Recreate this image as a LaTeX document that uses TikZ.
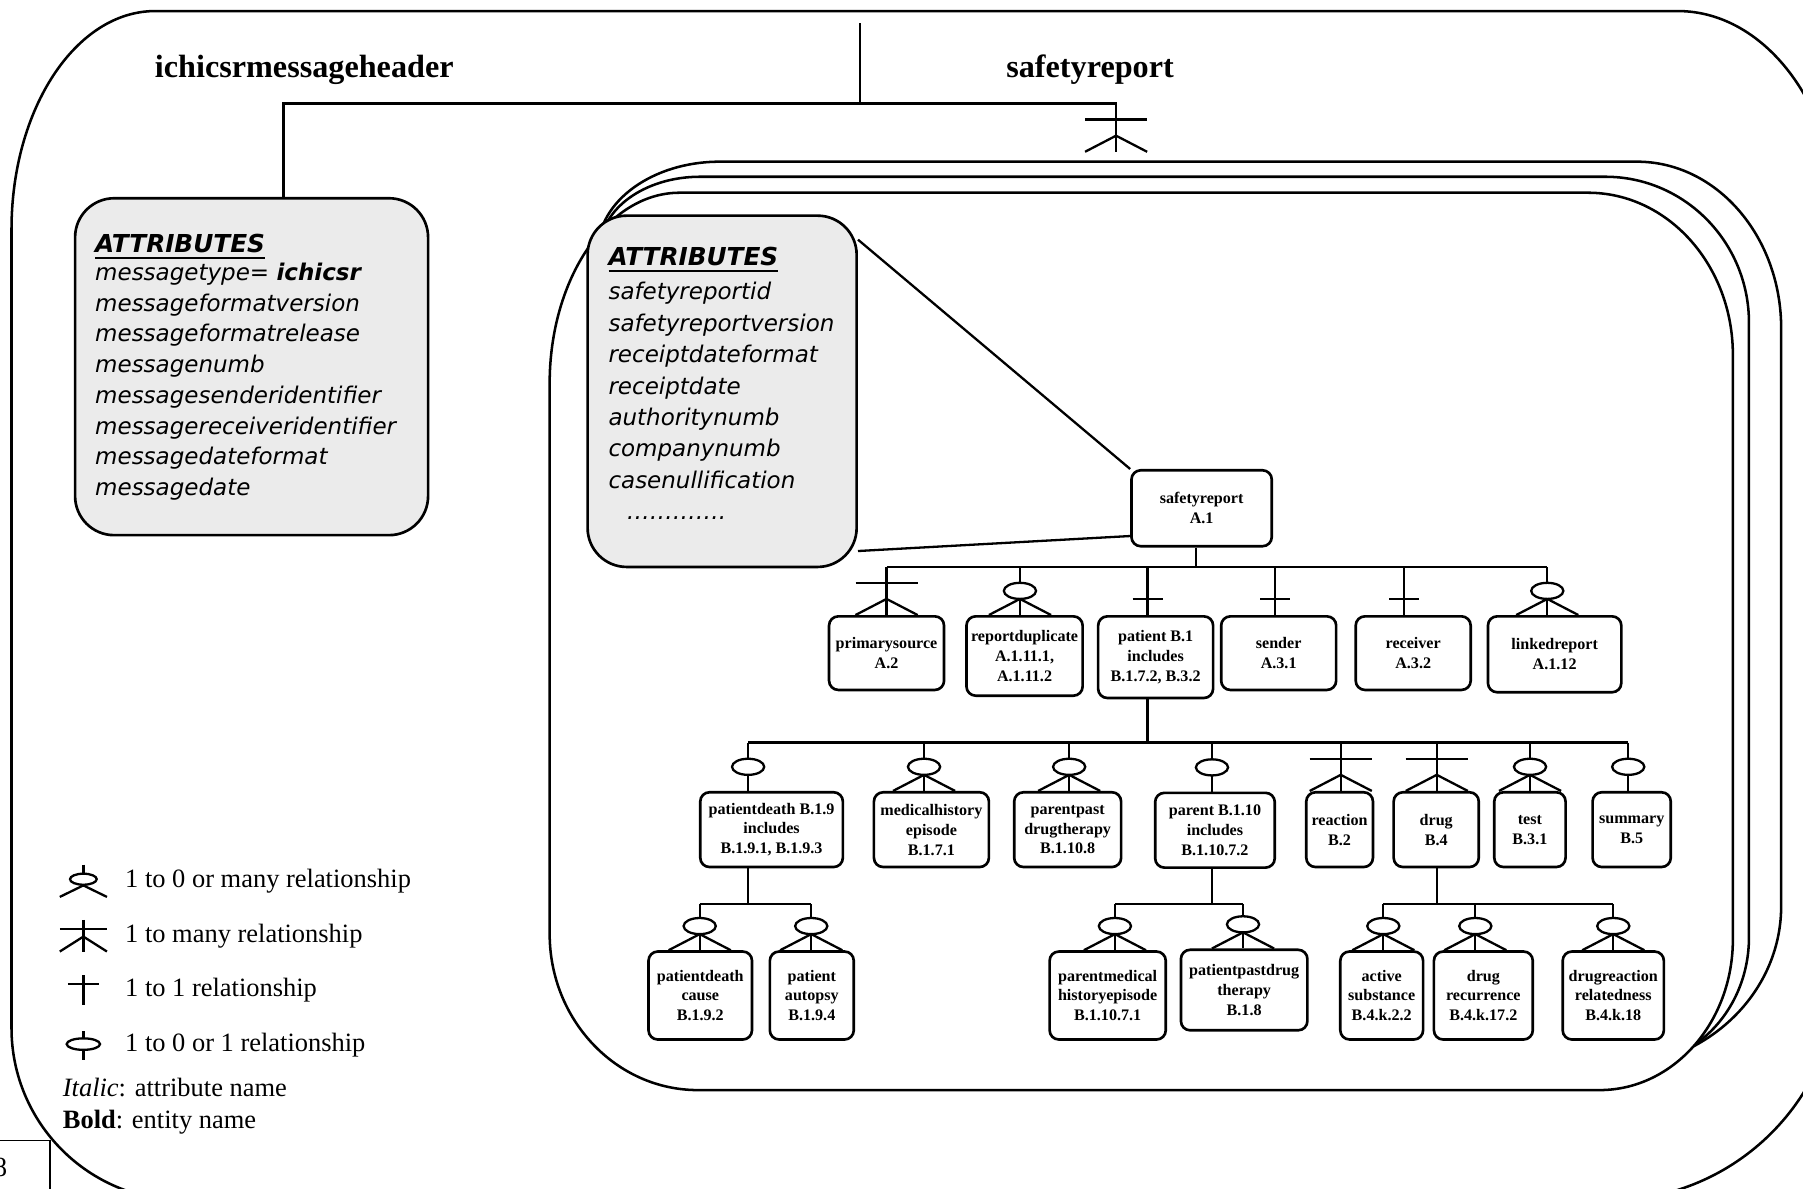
\documentclass[tikz,border=0pt]{standalone}
\usepackage{fontspec}
\setmainfont{Liberation Serif}
\newfontfamily\attrfont{DejaVu Sans}
\definecolor{attrgray}{RGB}{235,235,235}
\newcommand\entfont{\fontsize{14}{17.3}\selectfont\bfseries}
\newcommand\attrtxt{\attrfont\fontsize{20}{26.7}\selectfont\itshape}
\newcommand\attrtxtb{\attrfont\fontsize{20}{27.3}\selectfont\itshape}
\newcommand\ulhead[1]{{\fontsize{21.5}{26}\selectfont\bfseries\setbox0\hbox{#1}\rlap{\raisebox{-6pt}{\rule{\wd0}{2.2pt}}}\box0}}
\newcommand\kid[3]{\draw[conn] (#1) -- (#1 |- #2.north); \pic at (#1 |- #2.north) {#3};}
\tikzset{
  conn/.style={line width=2},
  frm/.style={draw, line width=2.2},
  ent/.style={draw, line width=2.3, rounded corners=8, fill=white, align=center,
              inner xsep=2, inner ysep=2, font=\entfont},
  attrbox/.style={draw, line width=2.3, rounded corners=34, fill=attrgray},
  hdrtext/.style={font=\fontsize{28}{32}\selectfont\bfseries, inner sep=0},
  legtext/.style={font=\fontsize{23}{27}\selectfont, inner sep=0, anchor=base west},
  pics/zmany/.style={code={
    \draw[conn] (-27,0) -- (0,-14) -- (27,0);
    \draw[conn,fill=white] (0,-21) ellipse [x radius=14,y radius=7];}},
  pics/zone/.style={code={
    \draw[conn,fill=white] (0,-21) ellipse [x radius=14,y radius=7];}},
  pics/omany/.style={code={
    \draw[conn] (-27,0) -- (0,-14) -- (27,0);
    \draw[conn] (-27,-28) -- (27,-28);}},
  pics/oone/.style={code={
    \draw[conn] (-13,-14) -- (13,-14);}},
}
\begin{document}
\begin{tikzpicture}[x=1pt,y=-1pt]
\useasboundingbox (0,0) rectangle (1568,1034);
\clip (0,0) rectangle (1568,1034);

% outer frame
\draw[frm] (135,9.6) -- (1459,9.6) arc[start angle=-90,end angle=0,x radius=140,y radius=190]
  -- (1599,844) arc[start angle=0,end angle=90,radius=200]
  -- (160,1044) arc[start angle=90,end angle=180,radius=150]
  -- (10,199.6) arc[start angle=180,end angle=270,x radius=125,y radius=190] -- cycle;

% stacked safetyreport frames
\draw[frm,fill=white] (626,140.6) -- (1423.6,140.6) arc[start angle=-90,end angle=0,x radius=125.4,y radius=145]
  -- (1549,788) arc[start angle=0,end angle=90,x radius=150,y radius=140]
  -- (620,928) arc[start angle=90,end angle=180,radius=100]
  -- (520,217.6) arc[start angle=180,end angle=270,x radius=106,y radius=77] -- cycle;
\draw[frm,fill=white] (608.8,153.7) -- (1396,153.7) arc[start angle=-90,end angle=0,x radius=125,y radius=127]
  -- (1521,815) arc[start angle=0,end angle=90,x radius=100,y radius=110]
  -- (622,925) arc[start angle=90,end angle=180,radius=100]
  -- (522,216.2) arc[start angle=180,end angle=270,x radius=86.8,y radius=62.5] -- cycle;
\draw[frm,fill=white] (591,167.6) -- (1381,167.6) arc[start angle=-90,end angle=0,x radius=126,y radius=141]
  -- (1507,817) arc[start angle=0,end angle=90,x radius=116,y radius=131]
  -- (607,948) arc[start angle=90,end angle=180,x radius=129,y radius=136]
  -- (478,333.6) arc[start angle=180,end angle=270,x radius=113,y radius=166] -- cycle;

% headings
\node[hdrtext, anchor=base] (h1) at (264.6,67.5) {ichicsrmessageheader};
\node[hdrtext, anchor=base] (h2) at (948,67) {safetyreport};

% attribute boxes
\node[attrbox, minimum width=307, minimum height=293] (hdr) at (218.8,318.9) {};
\node[attrbox, minimum width=234, minimum height=305.5] (rab) at (628,340.3) {};

\node[anchor=north west, align=left, inner sep=0, font=\attrtxt] (hdrtxt) at (82.6,203.2)
 {\ulhead{ATTRIBUTES}\\[-2.1pt]
  messagetype= \textbf{ichicsr}\\
  messageformatversion\\
  messageformatrelease\\
  messagenumb\\
  messagesenderidentifier\\
  messagereceiveridentifier\\
  messagedateformat\\
  messagedate};
\node[anchor=north west, align=left, inner sep=0, font=\attrtxtb] (rabtxt) at (529,214.8)
 {\ulhead{ATTRIBUTES}\\[2.5pt]
  safetyreportid\\
  safetyreportversion\\
  receiptdateformat\\
  receiptdate\\
  authoritynumb\\
  companynumb\\
  casenullification\\
  \hspace*{16pt}\ldots\ldots\ldots\ldots.};

% header connectors
\coordinate (topj) at (748,20);
\coordinate (midj) at (748,90);
\coordinate (lj) at (246.5,90);
\coordinate (rj) at (970.6,90);
\coordinate (sfend) at (970.6,132);
\draw[conn] (topj) -- (midj);
\draw[conn] (hdr.north -| lj) -- (lj) -- (rj) -- (sfend);
\pic at (sfend) {omany};

% entity nodes
\node[ent, minimum width=122, minimum height=66] (sr) at (1045,442) {safetyreport\\A.1};

\node[ent, minimum width=100, minimum height=64] (c1) at (771,568) {primarysource\\A.2};
\node[ent, minimum width=101, minimum height=69] (c2) at (891,570.5) {reportduplicate\\A.1.11.1,\\A.1.11.2};
\node[ent, minimum width=100, minimum height=71] (c3) at (1005,571.5) {patient B.1\\includes\\B.1.7.2, B.3.2};
\node[ent, minimum width=100, minimum height=64] (c4) at (1112,568) {sender\\A.3.1};
\node[ent, minimum width=100, minimum height=64] (c5) at (1229,568) {receiver\\A.3.2};
\node[ent, minimum width=116, minimum height=66] (c6) at (1352,569) {linkedreport\\A.1.12};

\node[ent, minimum width=124, minimum height=65] (d1) at (671,721.5) {patientdeath B.1.9\\includes\\B.1.9.1, B.1.9.3};
\node[ent, minimum width=100, minimum height=65] (d2) at (810,721.5) {medicalhistory\\episode\\B.1.7.1};
\node[ent, minimum width=93, minimum height=65] (d3) at (928.5,721.5) {parentpast\\drugtherapy\\B.1.10.8};
\node[ent, minimum width=104, minimum height=65] (d4) at (1056.6,722) {parent B.1.10\\includes\\B.1.10.7.2};
\node[ent, minimum width=58, minimum height=65] (d5) at (1165,721.5) {reaction\\B.2};
\node[ent, minimum width=74, minimum height=65] (d6) at (1249,721.5) {drug\\B.4};
\node[ent, minimum width=62, minimum height=65] (d7) at (1330.5,721.5) {test\\B.3.1};
\node[ent, minimum width=68, minimum height=65] (d8) at (1419,721.5) {summary\\B.5};

\node[ent, minimum width=90, minimum height=76.5] (e1) at (609,865.75) {patientdeath\\cause\\B.1.9.2};
\node[ent, minimum width=73, minimum height=76.5] (e2) at (706,865.75) {patient\\autopsy\\B.1.9.4};
\node[ent, minimum width=101, minimum height=76.5] (e3) at (963.3,865.75) {parentmedical\\historyepisode\\B.1.10.7.1};
\node[ent, minimum width=110, minimum height=70] (e4) at (1082,861) {patientpastdrug\\therapy\\B.1.8};
\node[ent, minimum width=72, minimum height=76.5] (e5) at (1201.6,865.75) {active\\substance\\B.4.k.2.2};
\node[ent, minimum width=86, minimum height=76.5] (e6) at (1290,865.75) {drug\\recurrence\\B.4.k.17.2};
\node[ent, minimum width=88, minimum height=76.5] (e7) at (1403,865.75) {drugreaction\\relatedness\\B.4.k.18};

% attributes box to safetyreport
\draw[conn] ([yshift=-22pt]rab.north east) -- (sr.north west);
\draw[conn] ([yshift=15pt]rab.south east) -- ([yshift=10pt]sr.south west);

% row 1
\coordinate (b0) at (1040,493);
\coordinate (t1) at (771,493);
\coordinate (t2) at (887,493);
\coordinate (t3) at (998,493);
\coordinate (t4) at (1109,493);
\coordinate (t5) at (1221,493);
\coordinate (t6) at (1345.6,493);
\draw[conn] ([xshift=-5pt]sr.south) -- (b0);
\draw[conn] (t1) -- (t6);
\kid{t1}{c1}{omany}
\kid{t2}{c2}{zmany}
\kid{t3}{c3}{oone}
\kid{t4}{c4}{oone}
\kid{t5}{c5}{oone}
\kid{t6}{c6}{zmany}

% row 2
\coordinate (u1) at (650.6,645.8);
\coordinate (u2) at (803.6,645.8);
\coordinate (u3) at (929.8,645.8);
\coordinate (u4) at (1054,645.8);
\coordinate (u5) at (1166,645.8);
\coordinate (u6) at (1249.5,645.8);
\coordinate (u7) at (1330.6,645.8);
\coordinate (u8) at (1416,645.8);
\draw[conn] (t3 |- c3.south) -- (t3 |- u1);
\draw[conn] (u1) -- (u8);
\kid{u1}{d1}{zone}
\kid{u2}{d2}{zmany}
\kid{u3}{d3}{zmany}
\kid{u4}{d4}{zone}
\kid{u5}{d5}{omany}
\kid{u6}{d6}{omany}
\kid{u7}{d7}{zmany}
\kid{u8}{d8}{zone}

% row 3
\coordinate (v1) at (608.5,786);
\coordinate (v2) at (705.5,786);
\coordinate (v3) at (969.6,786);
\coordinate (v4) at (1081,786);
\coordinate (v5) at (1203,786);
\coordinate (v6) at (1283,786);
\coordinate (v7) at (1403,786);
\draw[conn] (u1 |- d1.south) -- (u1 |- v1);
\draw[conn] (v1) -- (v2);
\draw[conn] (u4 |- d4.south) -- (u4 |- v3);
\draw[conn] (v3) -- (v4);
\draw[conn] (u6 |- d6.south) -- (u6 |- v5);
\draw[conn] (v5) -- (v7);
\kid{v1}{e1}{zmany}
\kid{v2}{e2}{zmany}
\kid{v3}{e3}{zmany}
\kid{v4}{e4}{zmany}
\kid{v5}{e5}{zmany}
\kid{v6}{e6}{zmany}
\kid{v7}{e7}{zmany}

% legend symbols
\draw[conn] (72.5,752) -- (72.5,771);
\draw[conn,fill=white] (72.5,764.6) ellipse [x radius=11.6,y radius=4.8];
\draw[conn] (52,780) -- (72.5,770) -- (93,780);
\draw[conn] (52,808) -- (93,808);
\draw[conn] (72.5,800) -- (72.5,827.5);
\draw[conn] (52,827.5) -- (72.5,814.5) -- (93,827.5);
\draw[conn] (59,856) -- (86,856);
\draw[conn] (72.5,848) -- (72.5,874);
\draw[conn] (72.5,897) -- (72.5,922);
\draw[conn,fill=white] (72.5,908) ellipse [x radius=14.5,y radius=5];

% legend texts
\node[legtext] (l1) at (108.7,772) {1 to 0 or many relationship};
\node[legtext] (l2) at (108.7,820) {1 to many relationship};
\node[legtext] (l3) at (108.7,867) {1 to 1 relationship};
\node[legtext] (l4) at (108.7,914.5) {1 to 0 or 1 relationship};
\node[legtext] (l5) at (54.5,954) {\textit{Italic}: attribute name};
\node[legtext] (l6) at (54.5,981) {\textbf{Bold}: entity name};

% page number box
\draw[line width=1] (0,992) -- (43.5,992) -- (43.5,1040);
\node[font=\fontsize{24}{28}\selectfont, inner sep=0, anchor=base east] (pg) at (6.5,1023.5) {8};
\end{tikzpicture}
\end{document}
